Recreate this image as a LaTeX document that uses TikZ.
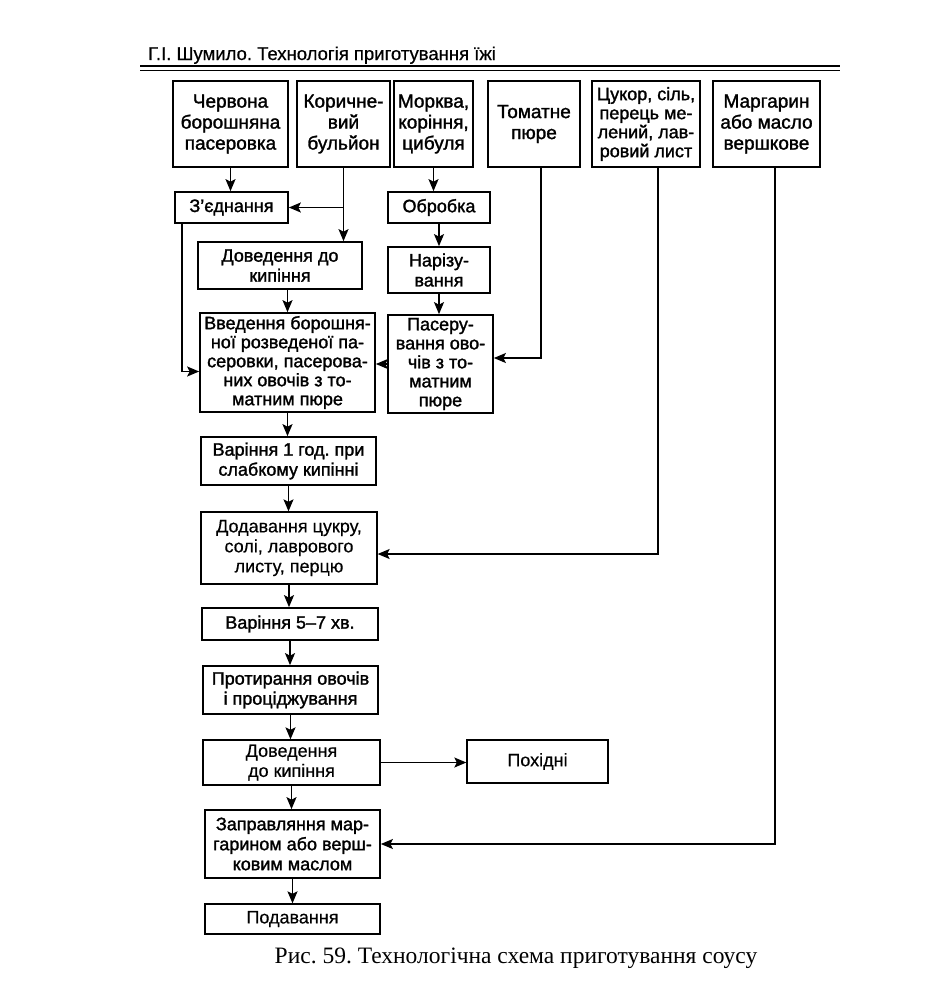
\documentclass[tikz,border=0pt]{standalone}
\usepackage{fontspec}
\setmainfont{Liberation Serif}
\newfontfamily\boxfont[FakeBold=1.5]{Liberation Sans}
\newfontfamily\lightfont[FakeBold=0.4]{Liberation Sans}
\newfontfamily\headfont[FakeBold=0.6]{Liberation Sans}
\usetikzlibrary{positioning, arrows.meta}
\frenchspacing

\begin{document}
\begin{tikzpicture}[x=1pt, y=-1pt,
    blok/.style={draw, line width=1.7pt, align=center, inner sep=0pt,
        font={\boxfont\fontsize{18}{20}\selectfont}},
    syrovyna/.style={blok, font={\boxfont\fontsize{19}{21}\selectfont}},
    svitlyi/.style={blok, line width=1.3pt,
        font={\lightfont\fontsize{18}{20}\selectfont}},
    strilka/.style={line width=1.4pt, -{Stealth[length=12pt, width=10pt, inset=2.5pt]}},
    liniya/.style={line width=1.4pt}]

    \useasboundingbox (0,0) rectangle (929,983);

    % Running head
    \node[anchor=base west, inner sep=0pt, font={\headfont\fontsize{18.5}{22}\selectfont}]
        (zagol) at (148,60) {Г.І. Шумило. Технологія приготування їжі};
    \draw[line width=1.6pt] (140,66) -- (840,66);
    \draw[line width=0.6pt] (140,70) -- (840,70);

    % Raw materials
    \node[syrovyna, minimum width=115, minimum height=86] (cherv) at (230.5,124) {Червона\\борошняна\\пасеровка};
    \node[syrovyna, minimum width=93, minimum height=86] (korych) at (343.5,124) {Коричне-\\вий\\бульйон};
    \node[syrovyna, minimum width=79, minimum height=86] (morkva) at (433.5,124) {Морква,\\коріння,\\цибуля};
    \node[syrovyna, minimum width=92, minimum height=86] (tomat) at (534,124) {Томатне\\пюре};
    \node[blok, minimum width=108, minimum height=86,
        font={\boxfont\fontsize{18}{19}\selectfont}] (cukor) at (646,124) {Цукор, сіль,\\перець ме-\\лений, лав-\\ровий лист};
    \node[syrovyna, minimum width=107, minimum height=86] (margar) at (766.5,124) {Маргарин\\або масло\\вершкове};

    % Preparation
    \node[blok, minimum width=113, minimum height=31] (zedn) at (231.5,207.5) {З’єднання};
    \node[blok, minimum width=164, minimum height=47] (dov1) at (280,265.5) {Доведення до\\кипіння};
    \node[blok, minimum width=102, minimum height=31] (obrob) at (439,207.5) {Обробка};
    \node[blok, minimum width=102, minimum height=46] (nariz) at (439,270) {Нарізу-\\вання};
    \node[blok, minimum width=175, minimum height=99,
        font={\boxfont\fontsize{18}{19}\selectfont}] (vved) at (287.5,362.5)
        {Введення борошня-\\ної розведеної па-\\серовки, пасерова-\\них овочів з то-\\матним пюре};
    \node[blok, minimum width=105, minimum height=98,
        font={\boxfont\fontsize{18}{19}\selectfont}] (paser) at (440.5,364)
        {Пасеру-\\вання ово-\\чів з то-\\матним\\пюре};

    % Main line
    \node[blok, minimum width=175, minimum height=48] (var1) at (288.5,461) {Варіння 1 год. при\\слабкому кипінні};
    \node[svitlyi, minimum width=176, minimum height=72] (dodav) at (289,548) {Додавання цукру,\\солі, лаврового\\листу, перцю};
    \node[blok, minimum width=176, minimum height=32] (var2) at (290,624) {Варіння 5–7 хв.};
    \node[blok, minimum width=175, minimum height=48] (protyr) at (290.5,690) {Протирання овочів\\і проціджування};
    \node[svitlyi, minimum width=177, minimum height=45] (dov2) at (291.5,762.5) {Доведення\\до кипіння};
    \node[svitlyi, minimum width=141, minimum height=43] (pokhid) at (537.5,761.5) {Похідні};
    \node[blok, minimum width=175, minimum height=68] (zapr) at (292.5,844) {Заправляння мар-\\гарином або верш-\\ковим маслом};
    \node[svitlyi, minimum width=175, minimum height=30] (podav) at (292.5,919) {Подавання};

    % Arrows from the raw materials
    \draw[strilka] (cherv.south) -- (cherv.south |- zedn.north);
    \draw[liniya] (korych.south) -- (korych.south |- zedn.east);
    \draw[strilka] (korych.south |- zedn.east) -- (zedn.east);
    \draw[strilka] (korych.south |- zedn.east) -- (korych.south |- dov1.north);
    \draw[strilka] ([xshift=8]zedn.south west) |- ([yshift=-9]vved.west);
    \draw[strilka] (vved.north |- dov1.south) -- (vved.north);
    \draw[strilka] (morkva.south) -- (morkva.south |- obrob.north);
    \draw[strilka] (obrob.south) -- (nariz.north);
    \draw[strilka] (nariz.south) -- (nariz.south |- paser.north);
    \draw[strilka] ([xshift=7]tomat.south) |- ([yshift=6]paser.east);
    \draw[strilka] (paser.west) -- (paser.west -| vved.east);
    \draw[strilka] ([xshift=12]cukor.south) |- ([yshift=-6]dodav.east);
    \draw[strilka] ([xshift=8.5]margar.south) |- (zapr.east);

    % Main line arrows
    \draw[strilka] (vved.south) -- (vved.south |- var1.north);
    \draw[strilka] (var1.south) -- (var1.south |- dodav.north);
    \draw[strilka] (dodav.south) -- (dodav.south |- var2.north);
    \draw[strilka] (var2.south) -- (var2.south |- protyr.north);
    \draw[strilka] (protyr.south) -- (protyr.south |- dov2.north);
    \draw[strilka] (dov2.east) -- (dov2.east -| pokhid.west);
    \draw[strilka] (dov2.south) -- (dov2.south |- zapr.north);
    \draw[strilka] (zapr.south) -- (zapr.south |- podav.north);

    % Caption
    \node[anchor=base, inner sep=0pt, font={\fontsize{23.5}{27}\selectfont}]
        (pidpys) at (516,963) {Рис. 59. Технологічна схема приготування соусу};

\end{tikzpicture}
\end{document}
